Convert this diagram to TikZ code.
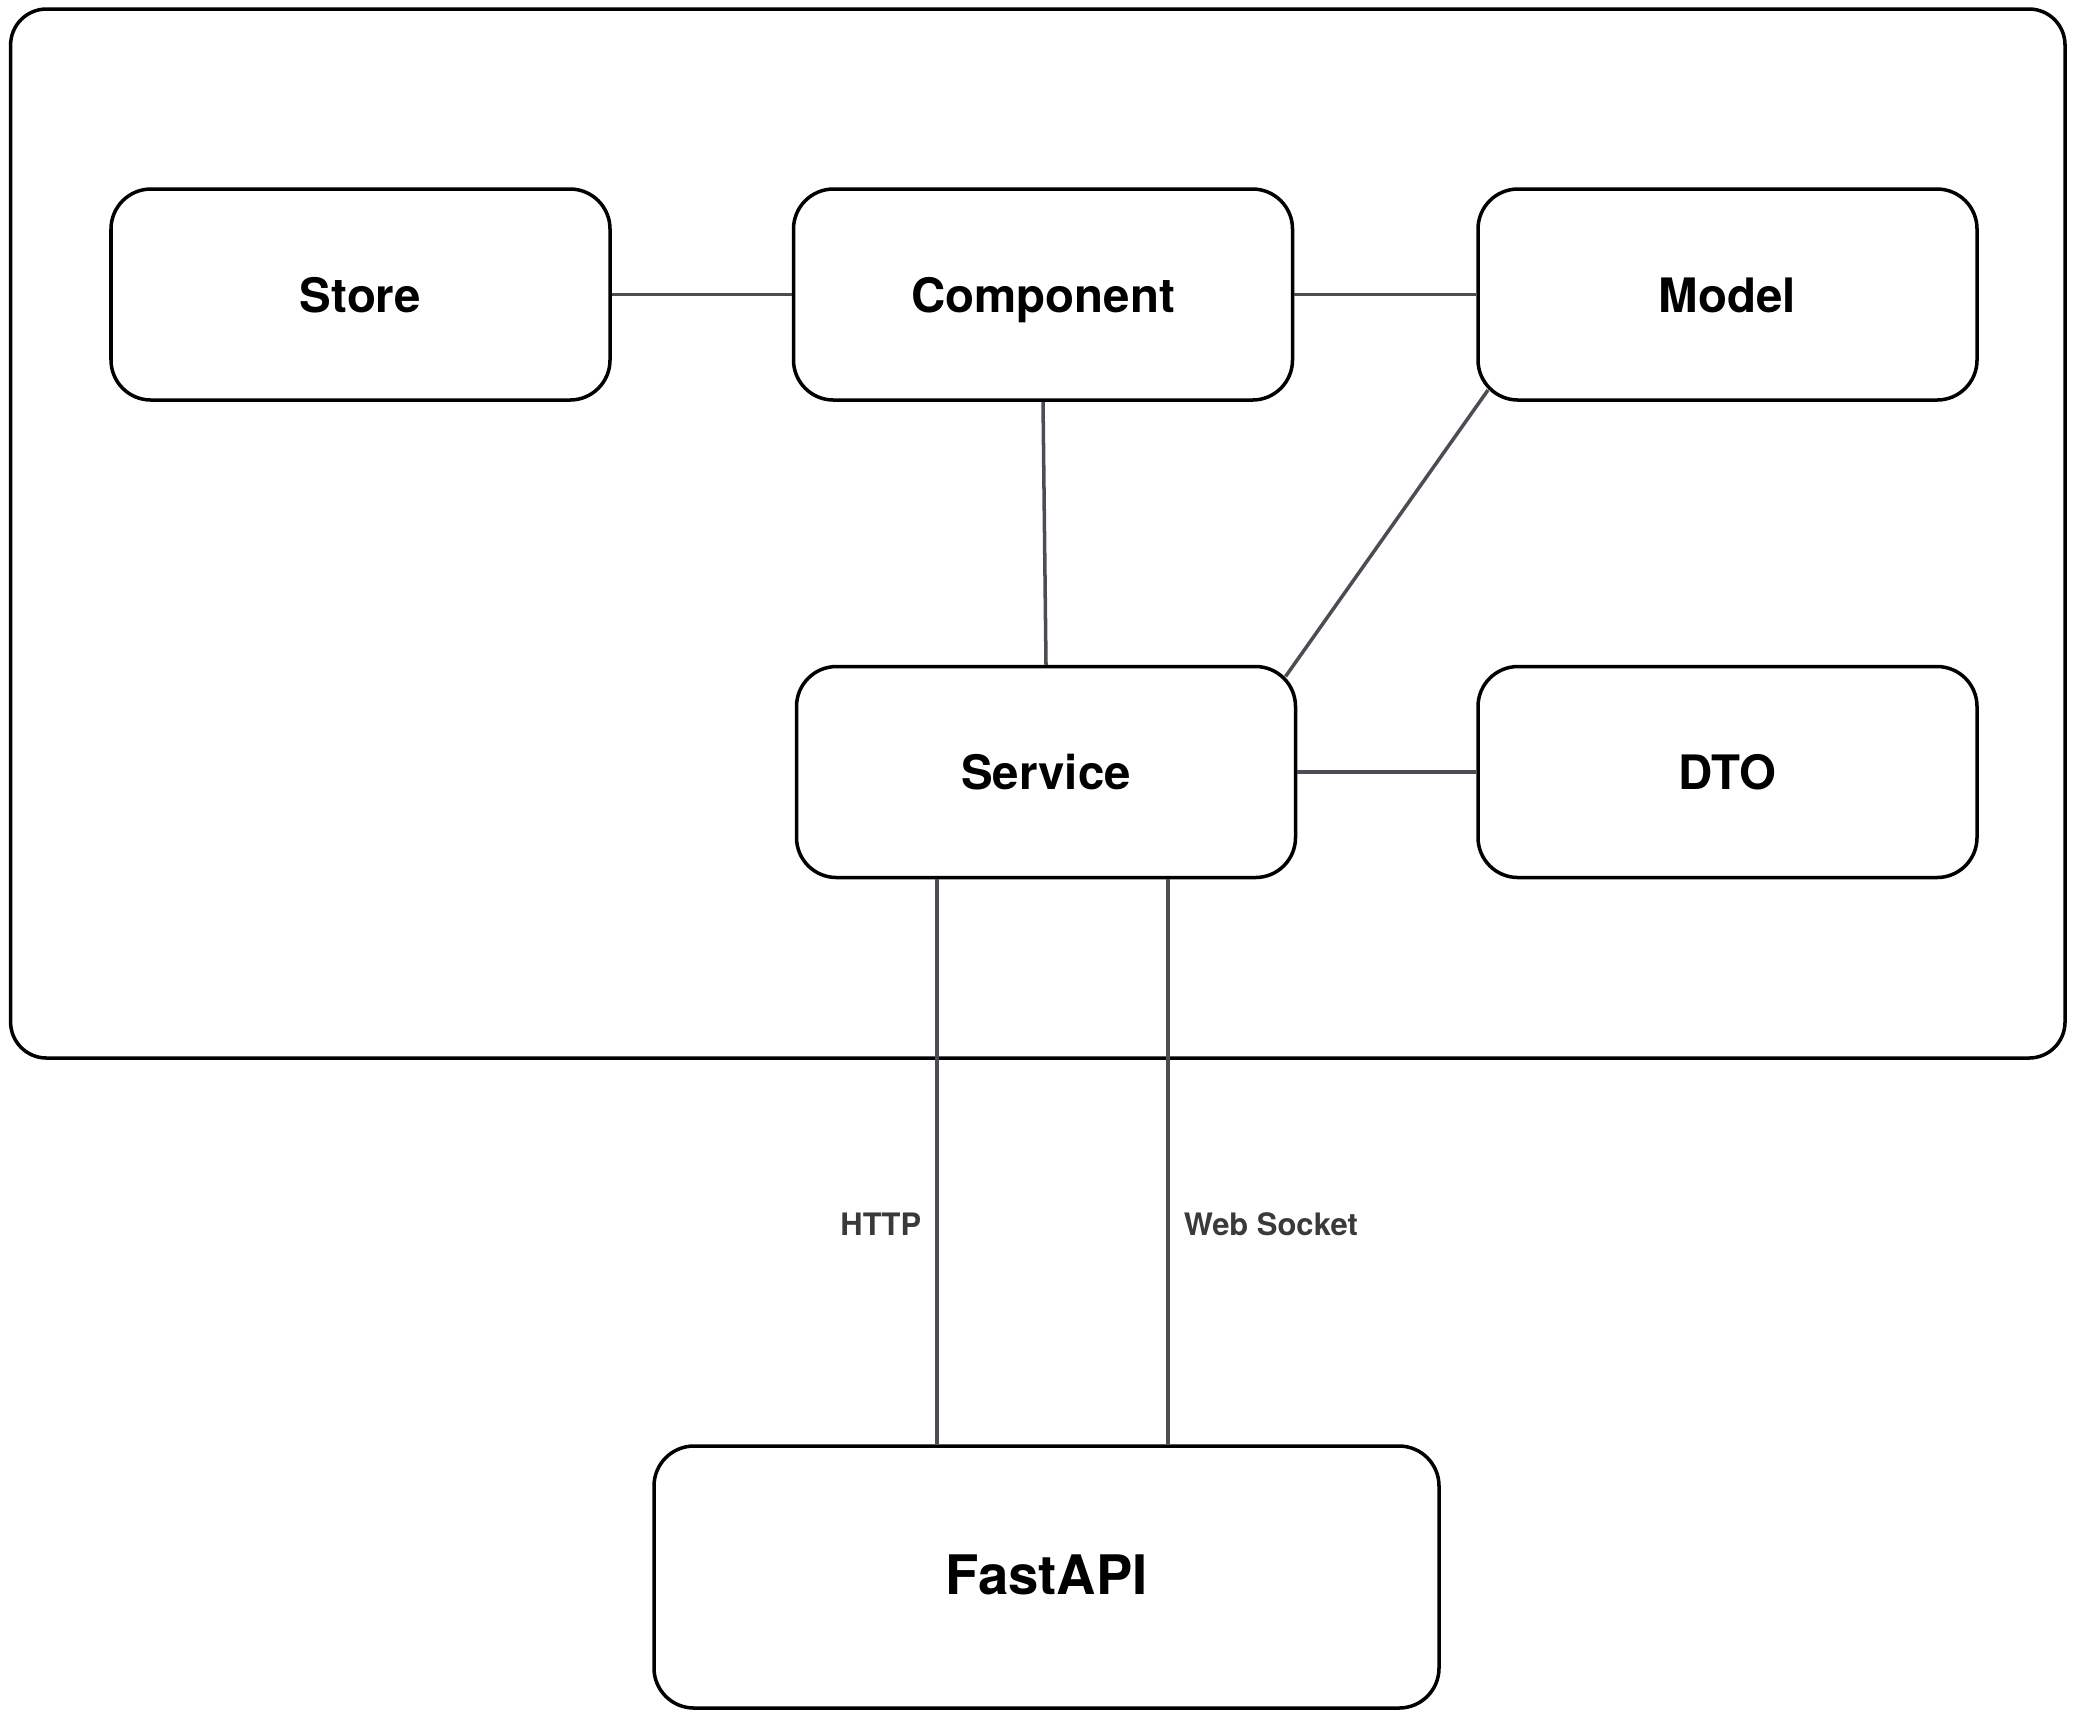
\documentclass[tikz,border=0pt]{standalone}
\usepackage{fontspec}
\setmainfont{TeX Gyre Heros}
\definecolor{linkgray}{HTML}{4A4E54}
\definecolor{labelgray}{HTML}{3A3A3A}

\begin{document}
\begin{tikzpicture}[
	box/.style={draw=black, line width=1pt, rounded corners=0.4cm, fill=white,
		minimum width=4.99cm, minimum height=2.11cm, inner sep=0pt,
		text height=1.27em, text depth=0.25em,
		font=\fontsize{13.5}{16}\selectfont\bfseries},
	link/.style={draw=linkgray, line width=1pt},
	proto/.style={font=\fontsize{8.8}{10}\selectfont\bfseries, text=labelgray, inner sep=4pt}]
	\useasboundingbox (0,0) rectangle (20.76,-17.19);
	\draw[line width=1pt, rounded corners=0.36cm] (0.106,-0.09) rectangle (20.65,-10.58);

	\node[box] (store)     at (3.605,-2.945)  {Store};
	\node[box] (component) at (10.43,-2.945)  {Component};
	\node[box] (model)     at (17.275,-2.945) {Model};
	\node[box] (service)   at (10.46,-7.72)   {Service};
	\node[box] (dto)       at (17.275,-7.72)  {DTO};
	\node[box, minimum width=7.85cm, minimum height=2.62cm,
		font=\fontsize{15.5}{18}\selectfont\bfseries] (fastapi) at (10.465,-15.77) {FastAPI};

	\coordinate (httpx) at (9.37,0);
	\coordinate (wsx)   at (11.68,0);

	\draw[link] (store.east) -- (component.west);
	\draw[link] (component.east) -- (model.west);
	\draw[link] (component.south) -- (service.north);
	\draw[link] ([shift={(0.117,0.117)}]model.south west) -- ([shift={(-0.117,-0.117)}]service.north east);
	\draw[link] (service.east) -- (dto.west);
	\draw[link] (service.south -| httpx) -- node[pos=0.61, left, proto] {HTTP} (fastapi.north -| httpx);
	\draw[link] (service.south -| wsx) -- node[pos=0.61, right, proto] {Web Socket} (fastapi.north -| wsx);
\end{tikzpicture}
\end{document}
